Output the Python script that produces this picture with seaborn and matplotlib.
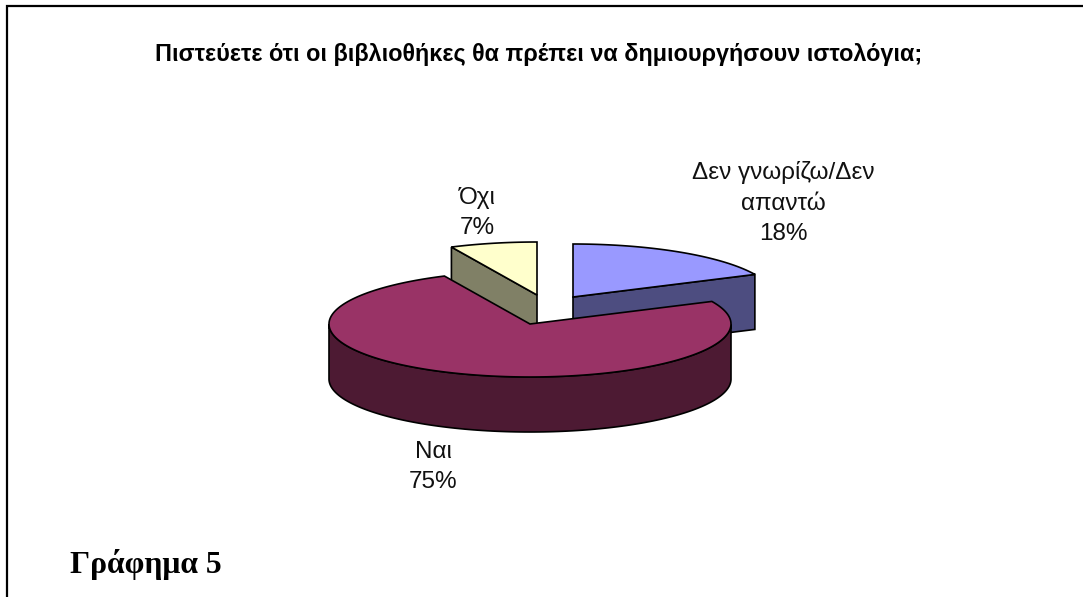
#!/usr/bin/env python3
"""3D-look exploded pie: should libraries create blogs?"""
import numpy as np
import matplotlib
matplotlib.use('Agg')
import matplotlib.pyplot as plt
import seaborn as sns
from matplotlib.patches import Polygon, Rectangle

# Data, in drawing order (clockwise from 12 o'clock)
categories = ['Δεν γνωρίζω/Δεν\nαπαντώ', 'Ναι', 'Όχι']
shares = [18, 75, 7]
top_colors = ['#9999FF', '#993366', '#FFFFCC']
side_colors = ['#4D4D80', '#4D1A33', '#808066']
title = 'Πιστεύετε ότι οι βιβλιοθήκες θα πρέπει να δημιουργήσουν ιστολόγια;'
caption = 'Γράφημα 5'

# Layout, in pixels of the 1083x597 picture
WIDTH, HEIGHT = 1083, 597
RX, RY, DEPTH = 201, 53, 55
centers = [(573, 297), (530, 324), (537, 295)]
label_pos = [(783, 203), (433, 467), (477, 213)]
draw_order = [2, 0, 1]

sns.set_theme(style='white')
plt.rcParams['font.family'] = ['Liberation Sans', 'DejaVu Sans']


def rim_xy(center, theta):
    """Point on the ellipse; theta in radians, clockwise from 12 o'clock"""
    return center[0] + RX * np.sin(theta), center[1] - RY * np.cos(theta)


def draw_slice(ax, center, start, end, top, side):
    theta = np.linspace(start, end, 200)
    x, y = rim_xy(center, theta)

    # Cut faces, only those turned towards the viewer
    for edge, visible in ((start, np.sin(start) < 0), (end, np.sin(end) > 0)):
        if visible:
            ex, ey = rim_xy(center, edge)
            face = [center, (ex, ey), (ex, ey + DEPTH), (center[0], center[1] + DEPTH)]
            ax.add_patch(Polygon(face, closed=True, fc=side, ec='black', lw=1.2))

    # Outer wall, only the part on the front half of the ellipse
    front = (theta > np.pi / 2) & (theta < 3 * np.pi / 2)
    if front.any():
        fx, fy = x[front], y[front]
        wall = np.column_stack([np.r_[fx, fx[::-1]], np.r_[fy, fy[::-1] + DEPTH]])
        ax.add_patch(Polygon(wall, closed=True, fc=side, ec='black', lw=1.2))

    outline = np.column_stack([np.r_[center[0], x], np.r_[center[1], y]])
    ax.add_patch(Polygon(outline, closed=True, fc=top, ec='black', lw=1.2))


fig = plt.figure(figsize=(WIDTH / 100, HEIGHT / 100), dpi=100, facecolor='white')
ax = fig.add_axes([0, 0, 1, 1])
ax.set_xlim(0, WIDTH)
ax.set_ylim(HEIGHT, 0)
ax.axis('off')

# Slice angles come from the shares
edges = np.radians(np.r_[0, np.cumsum(shares)] / sum(shares) * 360)
for i in draw_order:
    draw_slice(ax, centers[i], edges[i], edges[i + 1], top_colors[i], side_colors[i])

# Frame: only top and left lines show in the picture
ax.plot([WIDTH, 7, 7], [6, 6, HEIGHT], color='black', lw=1.6, solid_joinstyle='miter')

ax.text(539, 54, title, ha='center', va='center', fontsize=16.8, fontweight='bold', color='black')
ax.text(70, 565, caption, ha='left', va='center', fontsize=22.8, fontweight='bold',
        family=['Liberation Serif', 'DejaVu Serif'], color='black')

# The long label is cut off on its right side in the reference
clip = Rectangle((0, 0), 873, HEIGHT, transform=ax.transData)
for i, (lx, ly) in zip(range(len(categories)), label_pos):
    txt = ax.text(lx, ly, f'{categories[i]}\n{shares[i]}%', ha='center', va='center',
                  fontsize=17.5, linespacing=1.48, color='#111111')
    txt.set_clip_path(clip)

fig.savefig('out.png', dpi=100)
